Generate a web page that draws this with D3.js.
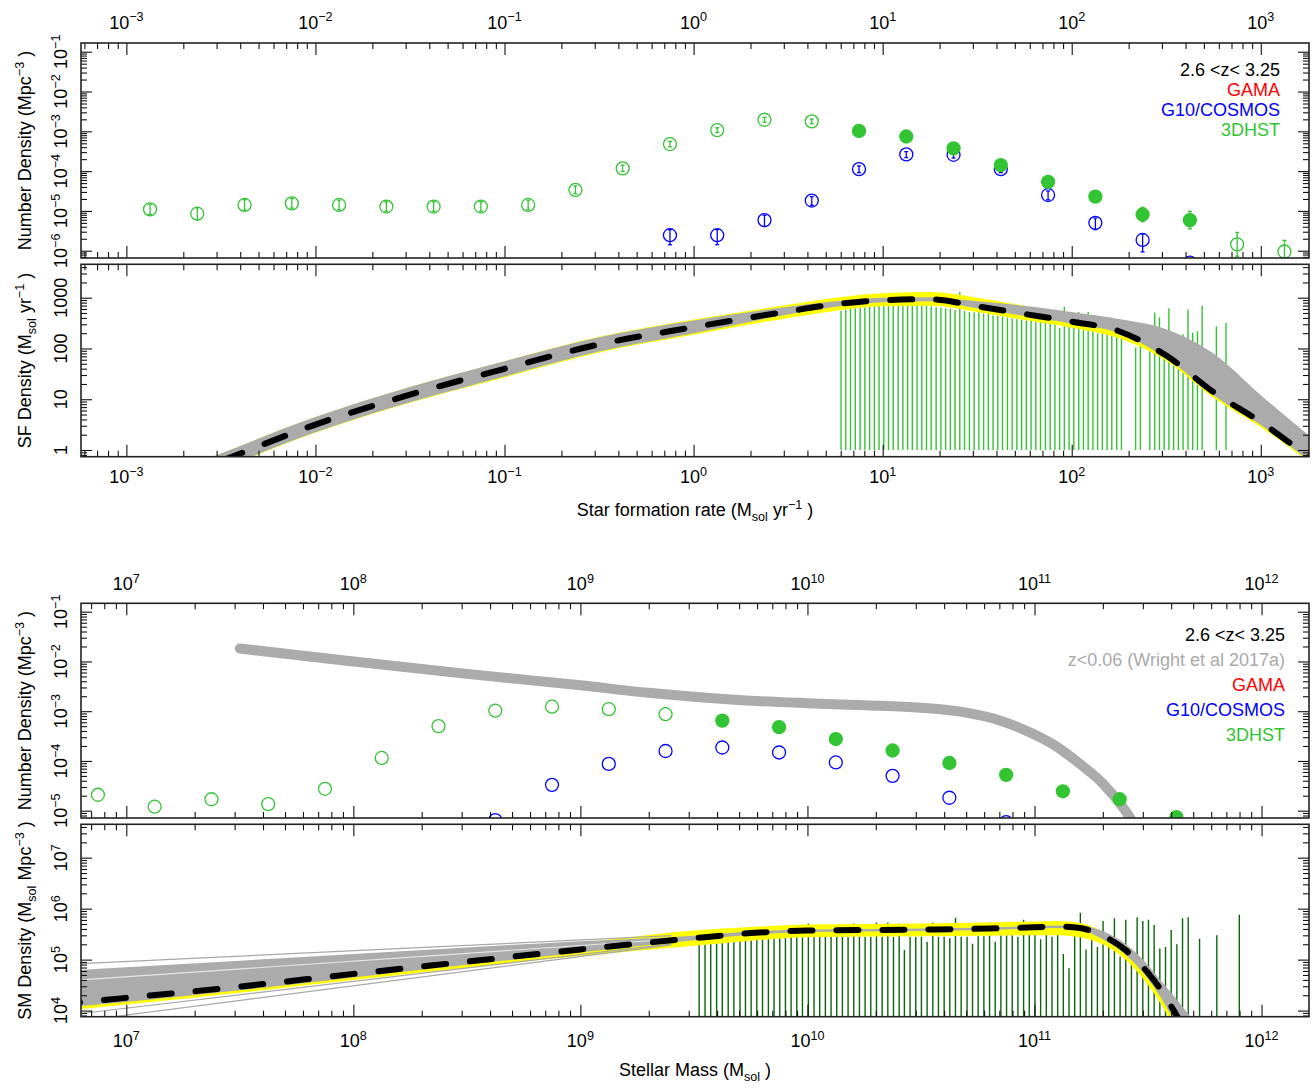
<!DOCTYPE html>
<html><head><meta charset="utf-8">
<script src="https://cdn.jsdelivr.net/npm/d3@7"></script>
<style>
body{margin:0;background:#fff;}
text{font-family:"Liberation Sans",Arial,Helvetica,sans-serif;white-space:pre;}
</style>
</head><body>
<svg id="c" width="1312" height="1089"></svg>
<script>
// ---------------- DATA (log10 values) ----------------
// axis tick exponents
const sfrTickExps = [-3,-2,-1,0,1,2,3];
const massTickExps = [7,8,9,10,11,12];
const sfrNdTickExps = [-6,-5,-4,-3,-2,-1];
const sfrDensTickLabels = ["1","10","100","1000"];
const massNdTickExps = [-5,-4,-3,-2,-1];
const massDensTickExps = [4,5,6,7];

// Panel 1: SFR number density
const dhstOpenSfrX = [-2.875,-2.625,-2.375,-2.125,-1.875,-1.625,-1.375,-1.125,-0.875,-0.625,-0.375,-0.125,0.125,0.375,0.625,2.875,3.125];
const dhstOpenSfrY = [-4.96,-5.07,-4.85,-4.81,-4.85,-4.89,-4.89,-4.89,-4.85,-4.47,-3.93,-3.32,-2.97,-2.71,-2.75,-5.84,-6.02];
const dhstOpenSfrErr = [0.13,0.15,0.13,0.12,0.12,0.12,0.12,0.12,0.12,0.1,0.08,0.07,0.06,0.06,0.06,0.3,0.28];
const dhstFilledSfrX = [0.875,1.125,1.375,1.625,1.875,2.125,2.375,2.625];
const dhstFilledSfrY = [-2.99,-3.13,-3.43,-3.85,-4.27,-4.64,-5.09,-5.23];
const dhstFilledSfrErr = [0.04,0.05,0.06,0.07,0.09,0.12,0.18,0.22];
const cosmosSfrX = [-0.125,0.125,0.375,0.625,0.875,1.125,1.375,1.625,1.875,2.125,2.375,2.625];
const cosmosSfrY = [-5.61,-5.61,-5.23,-4.74,-3.95,-3.58,-3.59,-3.95,-4.60,-5.30,-5.73,-6.30];
const cosmosSfrErrUp = [0.14,0.14,0.12,0.1,0.08,0.07,0.07,0.08,0.1,0.12,0.15,0.05];
const cosmosSfrErrDn = [0.24,0.24,0.16,0.12,0.09,0.08,0.08,0.09,0.12,0.17,0.3,0.1];

// Panel 2: SF density
const sfrCurveX   = [-3.4,-3.0,-2.5,-2.0,-1.5,-1.0,-0.5,0,0.5,0.75,1.0,1.25,1.5,1.75,2.0,2.25,2.5,2.75,3.0,3.25,3.4];
const sfrMedian   = [-1.55,-0.95,-0.22,0.50,1.09,1.60,2.08,2.42,2.73,2.87,2.95,2.97,2.83,2.68,2.53,2.34,1.86,1.14,0.55,-0.13,-0.55];
const sfrGrayHi   = [-1.40,-0.80,-0.07,0.65,1.24,1.75,2.22,2.55,2.82,2.93,3.00,3.01,2.93,2.84,2.72,2.58,2.38,1.90,1.08,0.30,-0.15];
const sfrGrayLo   = [-1.70,-1.10,-0.37,0.35,0.94,1.45,1.94,2.30,2.67,2.82,2.91,2.93,2.79,2.64,2.49,2.30,1.81,1.08,0.49,-0.19,-0.62];
const sfrYellowHi = [-1.40,-0.80,-0.07,0.65,1.24,1.75,2.23,2.57,2.86,3.00,3.09,3.11,3.00,2.84,2.68,2.44,1.96,1.20,0.60,-0.06,-0.50];
const sfrYellowLo = [-1.71,-1.11,-0.38,0.34,0.93,1.43,1.92,2.27,2.60,2.74,2.83,2.84,2.72,2.56,2.41,2.20,1.76,1.03,0.45,-0.22,-0.65];
const sfrSpikeX = [0.780,0.805,0.830,0.855,0.881,0.906,0.931,0.956,0.981,1.006,1.031,1.056,1.082,1.107,1.132,1.157,1.182,1.207,1.232,1.257,1.283,1.308,1.333,1.358,1.383,1.408,1.433,1.459,1.484,1.509,1.534,1.559,1.584,1.609,1.634,1.660,1.685,1.710,1.735,1.760,1.785,1.810,1.835,1.861,1.886,1.911,1.936,1.961,1.986,2.011,2.037,2.062,2.087,2.112,2.137,2.162,2.187,2.212,2.238,2.263,2.338,2.363,2.413,2.439,2.464,2.489,2.514,2.539,2.564,2.589,2.615,2.640,2.665,2.690,2.765,2.816];
const sfrSpikeY = [2.74,2.76,2.78,2.79,2.80,2.81,2.82,2.83,2.84,2.84,2.85,2.86,2.86,2.86,2.86,2.86,2.85,2.84,2.84,2.83,2.81,2.80,2.79,2.78,2.76,3.11,2.74,2.72,2.71,2.99,2.69,2.68,2.65,2.64,2.63,2.61,2.59,2.58,2.57,2.55,2.54,2.53,2.52,2.50,2.49,2.48,2.40,2.82,2.45,2.44,2.72,2.41,2.72,2.38,2.30,2.34,2.33,2.32,2.23,2.21,2.02,2.30,2.23,2.71,2.61,2.27,2.79,2.23,2.23,2.28,2.77,2.31,2.34,2.84,2.44,2.50];
const sfrSpikeBase = 0;

// Panel 3: stellar mass number density
const dhstOpenMassX = [6.875,7.125,7.375,7.625,7.875,8.125,8.375,8.625,8.875,9.125,9.375];
const dhstOpenMassY = [-4.68,-4.92,-4.77,-4.87,-4.56,-3.94,-3.30,-2.99,-2.91,-2.96,-3.06];
const dhstFilledMassX = [9.625,9.875,10.125,10.375,10.625,10.875,11.125,11.375,11.625];
const dhstFilledMassY = [-3.19,-3.32,-3.56,-3.79,-4.04,-4.28,-4.61,-4.77,-5.13];
const cosmosMassX = [8.625,8.875,9.125,9.375,9.625,9.875,10.125,10.375,10.625,10.875];
const cosmosMassY = [-5.19,-4.48,-4.06,-3.80,-3.73,-3.83,-4.03,-4.30,-4.74,-5.23];
const wrightX = [7.5,8.0,8.5,9.0,9.3,9.5,9.75,10.0,10.25,10.5,10.7,10.85,11.0,11.1,11.2,11.3,11.4,11.45,11.5];
const wrightY = [-1.74,-2.0,-2.25,-2.48,-2.63,-2.71,-2.79,-2.84,-2.88,-2.93,-3.03,-3.19,-3.47,-3.72,-4.06,-4.45,-5.0,-5.35,-5.7];

// Panel 4: SM density
const massCurveX   = [6.7,7.0,7.5,8.0,8.5,9.0,9.5,9.75,10.0,10.5,10.8,11.0,11.1,11.2,11.3,11.4,11.5,11.55,11.6,11.65,11.7,11.8];
const massMedian   = [4.12,4.25,4.47,4.72,4.96,5.20,5.42,5.52,5.57,5.59,5.61,5.635,5.65,5.62,5.47,5.19,4.74,4.45,4.10,3.72,3.30,2.40];
const massGrayHi   = [4.77,4.85,4.98,5.11,5.24,5.36,5.47,5.55,5.59,5.61,5.63,5.66,5.67,5.67,5.56,5.31,4.89,4.62,4.36,4.09,3.80,3.10];
const massGrayLo   = [4.05,4.17,4.40,4.65,4.90,5.14,5.38,5.49,5.54,5.56,5.58,5.61,5.62,5.58,5.40,5.10,4.62,4.30,3.92,3.50,3.05,2.20];
const massYellowHi = [4.20,4.33,4.56,4.82,5.07,5.33,5.57,5.64,5.69,5.71,5.73,5.75,5.76,5.72,5.55,5.25,4.78,4.48,4.13,3.75,3.32,2.40];
const massYellowLo = [3.99,4.12,4.35,4.60,4.84,5.07,5.27,5.37,5.44,5.46,5.47,5.48,5.48,5.44,5.30,5.00,4.50,4.18,3.80,3.38,2.95,2.10];
const massFanX = [6.7,9.4];
const massFanTop = [4.90,5.47];
const massFanLow1 = [3.89,5.31];
const massFanLow2 = [3.74,5.29];
const massFanInner = [4.57,5.40];
const massSpikeX = [9.523,9.549,9.574,9.600,9.625,9.651,9.676,9.703,9.727,9.752,9.777,9.802,9.828,9.853,9.878,9.903,9.928,9.953,9.978,10.004,10.029,10.054,10.079,10.104,10.129,10.154,10.179,10.204,10.229,10.254,10.279,10.304,10.329,10.354,10.379,10.404,10.427,10.452,10.477,10.502,10.527,10.552,10.577,10.602,10.627,10.652,10.677,10.703,10.727,10.752,10.777,10.802,10.827,10.852,10.877,10.902,10.927,10.952,10.977,11.002,11.027,11.052,11.077,11.102,11.127,11.152,11.177,11.202,11.227,11.252,11.277,11.302,11.327,11.352,11.377,11.402,11.427,11.452,11.477,11.502,11.527,11.552,11.577,11.602,11.627,11.652,11.677,11.727,11.803,11.902];
const massSpikeY = [5.29,5.30,5.32,5.33,5.35,5.36,5.37,5.38,5.39,5.40,5.41,5.41,5.42,5.43,5.43,5.44,5.44,5.44,5.44,5.71,5.45,5.45,5.45,5.45,5.45,5.45,5.45,5.71,5.45,5.45,5.45,5.73,5.45,5.73,5.45,5.71,5.19,5.45,5.45,5.45,5.35,5.73,5.45,5.45,5.42,5.82,5.45,5.45,5.31,5.46,5.46,5.73,5.35,5.48,5.48,5.48,5.45,5.78,5.50,5.50,5.40,5.50,5.45,5.50,5.11,4.83,5.48,5.92,5.20,5.42,5.25,5.76,5.29,5.81,5.06,5.78,4.96,5.83,5.76,5.78,5.68,5.22,5.25,5.58,5.30,5.81,5.83,5.41,5.48,5.88];

// legends
const legendSfr = [["2.6 <z< 3.25","#000"],["GAMA","#FF0000"],["G10/COSMOS","#0000FF"],["3DHST","#33C433"]];
const legendMass = [["2.6 <z< 3.25","#000"],["z<0.06 (Wright et al 2017a)","#AAAAAA"],["GAMA","#FF0000"],["G10/COSMOS","#0000FF"],["3DHST","#33C433"]];

// ---------------- LAYOUT ----------------
const GREEN="#33C433", BLUE="#0000FF", DKGREEN="#0B650B", GRAY="#ABABAB", YEL="#FFFF00";
const L=81, R=1309;
const P1={top:43,bottom:258}, P2={top:264.3,bottom:456.7}, P3={top:603.3,bottom:818}, P4={top:824.3,bottom:1016.7};
const p = v => Math.pow(10, v);
const xS = d3.scaleLog().domain([p(-3.24), p(3.255)]).range([L,R]);
const xM = d3.scaleLog().domain([p(6.8005), p(12.209)]).range([L,R]);
const y1 = d3.scaleLog().domain([p(-6.183), p(-0.781)]).range([P1.bottom,P1.top]);
const y2 = d3.scaleLog().domain([p(-0.132), p(3.658)]).range([P2.bottom,P2.top]);
const y3 = d3.scaleLog().domain([p(-5.147), p(-0.831)]).range([P3.bottom,P3.top]);
const y4 = d3.scaleLog().domain([p(3.88), p(7.655)]).range([P4.bottom,P4.top]);
const FS=18;

const svg = d3.select('#c');
svg.append('rect').attr('width',1312).attr('height',1089).attr('fill','#fff');
const defs = svg.append('defs');
function clip(id,P){ defs.append('clipPath').attr('id',id).append('rect').attr('x',L).attr('y',P.top).attr('width',R-L).attr('height',P.bottom-P.top); return svg.append('g').attr('clip-path',`url(#${id})`); }

function rich(t, parts, fs){
  let shift=0;
  parts.forEach(([s,mode])=>{
    const target = mode===1 ? -0.4*fs : mode===-1 ? 0.3*fs : 0;
    t.append('tspan').attr('dy', target-shift).attr('font-size', mode? fs*0.7 : fs).text(s);
    shift=target;
  });
}
const expParts = e => [["10",0],[(e<0?"\u2212":"")+Math.abs(e),1]];

function logTicks(scale){
  const [a,b] = scale.domain().map(Math.log10);
  const major=[], minor=[];
  for(let e=Math.floor(a); e<=Math.ceil(b); e++){
    if(e>=a-1e-9 && e<=b+1e-9) major.push(p(e));
    for(let m=2;m<=9;m++){ const lw=Math.log10(m)+e; if(lw>=a && lw<=b) minor.push(m*p(e)); }
  }
  return {major,minor};
}
function frame(P, xs, ys){
  const g = svg.append('g');
  const xt=logTicks(xs), yt=logTicks(ys);
  const mk=(axis,vals,size,tr)=>{
    const a=g.append('g').attr('transform',tr).call(axis.tickValues(vals).tickSize(-size).tickFormat(()=>''));
    a.select('.domain').remove(); a.selectAll('text').remove();
    a.selectAll('line').attr('stroke','#111').attr('stroke-width',1.1);
  };
  mk(d3.axisTop(xs),xt.major,12,`translate(0,${P.top})`);
  mk(d3.axisTop(xs),xt.minor,6,`translate(0,${P.top})`);
  mk(d3.axisBottom(xs),xt.major,12,`translate(0,${P.bottom})`);
  mk(d3.axisBottom(xs),xt.minor,6,`translate(0,${P.bottom})`);
  mk(d3.axisLeft(ys),yt.major,11,`translate(${L},0)`);
  mk(d3.axisLeft(ys),yt.minor,6,`translate(${L},0)`);
  mk(d3.axisRight(ys),yt.major,11,`translate(${R},0)`);
  mk(d3.axisRight(ys),yt.minor,6,`translate(${R},0)`);
  g.append('rect').attr('x',L).attr('y',P.top).attr('width',R-L).attr('height',P.bottom-P.top)
    .attr('fill','none').attr('stroke','#222').attr('stroke-width',1.6);
}
function xLabels(xs, exps, y){
  exps.forEach(e=>{ const t=svg.append('text').attr('x',xs(p(e))).attr('y',y).attr('text-anchor','middle').attr('font-size',FS); rich(t,expParts(e),FS); });
}
function yLabels(ys, vals, partsFn){
  vals.forEach(v=>{ const t=svg.append('text').attr('transform',`translate(67,${ys(v)}) rotate(-90)`).attr('text-anchor','middle').attr('font-size',FS); rich(t,partsFn(v),FS); });
}
function yTitle(P, parts){
  const t=svg.append('text').attr('transform',`translate(31,${(P.top+P.bottom)/2}) rotate(-90)`).attr('text-anchor','middle').attr('font-size',FS);
  rich(t,parts,FS);
}
function legend(items, xr, y0, dy){
  items.forEach(([s,c],i)=>svg.append('text').attr('x',xr).attr('y',y0+i*dy).attr('text-anchor','end').attr('font-size',FS).attr('fill',c).text(s));
}
function band(g, xs, ys, X, lo, hi, fill){
  g.append('path').attr('d', d3.area().x(d=>xs(p(d))).y0((d,i)=>ys(p(lo[i]))).y1((d,i)=>ys(p(hi[i]))).curve(d3.curveMonotoneX)(X)).attr('fill',fill);
}
function line(g, xs, ys, X, Y){ return g.append('path').attr('d', d3.line().x(d=>xs(p(d))).y((d,i)=>ys(p(Y[i]))).curve(d3.curveMonotoneX)(X)).attr('fill','none'); }
function spikes(g, xs, ys, X, Y, base, col){
  g.selectAll(null).data(X).enter().append('line')
    .attr('x1',d=>xs(p(d))).attr('x2',d=>xs(p(d)))
    .attr('y1',ys(p(base))).attr('y2',(d,i)=>ys(p(Y[i])))
    .attr('stroke',col).attr('stroke-width',1.4);
}
function points(g, xs, ys, X, Y, col, filled, errUp, errDn){
  X.forEach((x,i)=>{
    const cx=xs(p(x)), cy=ys(p(Y[i]));
    if(errUp){
      const yt=ys(p(Y[i]+errUp[i])), yb=ys(p(Y[i]-(errDn?errDn[i]:errUp[i])));
      g.append('line').attr('x1',cx).attr('x2',cx).attr('y1',yt).attr('y2',yb).attr('stroke',col).attr('stroke-width',1.3);
      [yt,yb].forEach(yy=>g.append('line').attr('x1',cx-2).attr('x2',cx+2).attr('y1',yy).attr('y2',yy).attr('stroke',col).attr('stroke-width',1.3));
    }
    g.append('circle').attr('cx',cx).attr('cy',cy).attr('r',6.5)
      .attr('fill',filled?col:'none').attr('stroke',col).attr('stroke-width',1.3);
  });
}

// ---------- Panel 1 ----------
{
  const g=clip('c1',P1);
  points(g,xS,y1,cosmosSfrX,cosmosSfrY,BLUE,false,cosmosSfrErrUp,cosmosSfrErrDn);
  points(g,xS,y1,dhstOpenSfrX,dhstOpenSfrY,GREEN,false,dhstOpenSfrErr);
  points(g,xS,y1,dhstFilledSfrX,dhstFilledSfrY,GREEN,true,dhstFilledSfrErr);
  frame(P1,xS,y1);
  xLabels(xS,sfrTickExps,28.5);
  yLabels(y1,sfrNdTickExps.map(p),v=>expParts(Math.round(Math.log10(v))));
  yTitle(P1,[["Number Density (Mpc",0],["\u22123",1],[" )",0]]);
  legend(legendSfr,1280,76,20);
}
// ---------- Panel 2 ----------
{
  const g=clip('c2',P2);
  spikes(g,xS,y2,sfrSpikeX,sfrSpikeY,sfrSpikeBase,GREEN);
  band(g,xS,y2,sfrCurveX,sfrYellowLo,sfrYellowHi,YEL);
  band(g,xS,y2,sfrCurveX,sfrGrayLo,sfrGrayHi,GRAY);
  line(g,xS,y2,sfrCurveX,sfrMedian).attr('stroke','#000').attr('stroke-width',6).attr('stroke-dasharray','22 24').attr('stroke-linecap','round');
  frame(P2,xS,y2);
  xLabels(xS,sfrTickExps,483);
  yLabels(y2,sfrDensTickLabels.map(Number),v=>[[String(v),0]]);
  yTitle(P2,[["SF Density (M",0],["sol",-1],[" yr",0],["\u22121",1],[" )",0]]);
  const t=svg.append('text').attr('x',(L+R)/2).attr('y',516).attr('text-anchor','middle').attr('font-size',FS);
  rich(t,[["Star formation rate (M",0],["sol",-1],[" yr",0],["\u22121",1],[" )",0]],FS);
}
// ---------- Panel 3 ----------
{
  const g=clip('c3',P3);
  line(g,xM,y3,wrightX,wrightY).attr('stroke',GRAY).attr('stroke-width',10).attr('stroke-linecap','round');
  points(g,xM,y3,cosmosMassX,cosmosMassY,BLUE,false);
  points(g,xM,y3,dhstOpenMassX,dhstOpenMassY,GREEN,false);
  points(g,xM,y3,dhstFilledMassX,dhstFilledMassY,GREEN,true);
  frame(P3,xM,y3);
  xLabels(xM,massTickExps,590);
  yLabels(y3,massNdTickExps.map(p),v=>expParts(Math.round(Math.log10(v))));
  yTitle(P3,[["Number Density (Mpc",0],["\u22123",1],[" )",0]]);
  legend(legendMass,1285,641,25);
}
// ---------- Panel 4 ----------
{
  const g=clip('c4',P4);
  spikes(g,xM,y4,massSpikeX,massSpikeY,3.5,DKGREEN);
  band(g,xM,y4,massCurveX,massYellowLo,massYellowHi,YEL);
  band(g,xM,y4,massCurveX,massGrayLo,massGrayHi,GRAY);
  [massFanTop,massFanLow1,massFanLow2].forEach(f=>line(g,xM,y4,massFanX,f).attr('stroke','#A8A8A8').attr('stroke-width',1.2));
  line(g,xM,y4,massFanX,massFanInner).attr('stroke','#E6E6E6').attr('stroke-width',1.2);
  line(g,xM,y4,massCurveX,massMedian).attr('stroke','#000').attr('stroke-width',6).attr('stroke-dasharray','22 24').attr('stroke-linecap','round');
  frame(P4,xM,y4);
  xLabels(xM,massTickExps,1047);
  yLabels(y4,massDensTickExps.map(p),v=>expParts(Math.round(Math.log10(v))));
  yTitle(P4,[["SM Density (M",0],["sol",-1],[" Mpc",0],["\u22123",1],[" )",0]]);
  const t=svg.append('text').attr('x',(L+R)/2).attr('y',1076).attr('text-anchor','middle').attr('font-size',FS);
  rich(t,[["Stellar Mass (M",0],["sol",-1],[" )",0]],FS);
}
</script>
</body></html>
